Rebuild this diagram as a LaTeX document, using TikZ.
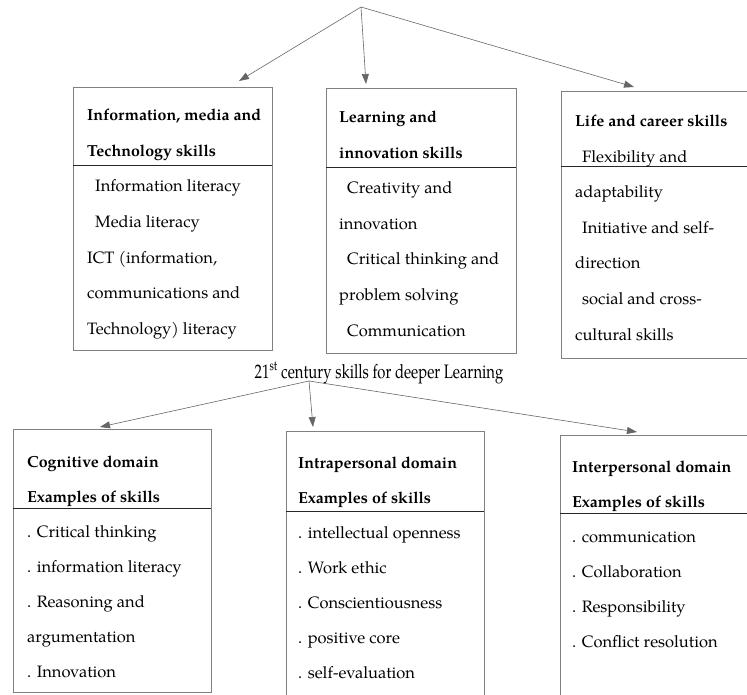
\documentclass[tikz,border=0pt]{standalone}
\usepackage{fontspec}
\setmainfont{TeX Gyre Pagella}
\usetikzlibrary{arrows.meta}
\begin{document}
\begin{tikzpicture}[x=1pt,y=-1pt,
  box/.style={draw=black!50, line width=0.7pt, anchor=north west, inner sep=0pt},
  divider/.style={draw=black!85, line width=0.8pt},
  conn/.style={draw=black!60, line width=0.6pt, -{Triangle[length=10pt,width=7pt]}},
  txt/.style={anchor=base west, inner sep=0pt, font=\fontsize{16.5}{18}\selectfont},
  head/.style={anchor=base west, inner sep=0pt, font=\fontsize{16}{18}\selectfont\bfseries},
]
\useasboundingbox (0,0) rectangle (747,695);

% ---------- top boxes ----------
\node[box, minimum width=199pt, minimum height=263pt] (b1) at (73,87) {};
\node[box, minimum width=190pt, minimum height=265pt] (b2) at (326,88) {};
\node[box, minimum width=200pt, minimum height=267pt] (b3) at (561,91) {};
\draw[divider] (73,165) -- (272,165);
\draw[divider] (326,167) -- (516,167);
\draw[divider] (561,166) -- (747,166);

\node[head] (h11) at (87,121) {Information, media and};
\node[head] (h12) at (87,156.5) {Technology skills};
\node[txt] (i11) at (95,192) {Information literacy};
\node[txt] (i12) at (95,227.5) {Media literacy};
\node[txt] (i13) at (87,263) {ICT (information,};
\node[txt] (i14) at (87,298.5) {communications and};
\node[txt] (i15) at (87,334) {Technology) literacy};

\node[head] (h21) at (339,123) {Learning and};
\node[head] (h22) at (339,158.5) {innovation skills};
\node[txt] (i21) at (347,194) {Creativity and};
\node[txt] (i22) at (339,229.5) {innovation};
\node[txt] (i23) at (347,265) {Critical thinking and};
\node[txt] (i24) at (339,300.5) {problem solving};
\node[txt] (i25) at (347,336) {Communication};

\node[head] (h31) at (575,127) {Life and career skills};
\node[txt] (i31) at (582,162.5) {Flexibility and};
\node[txt] (i32) at (575,198) {adaptability};
\node[txt] (i33) at (582,233.5) {Initiative and self-};
\node[txt] (i34) at (575,269) {direction};
\node[txt] (i35) at (582,304.5) {social and cross-};
\node[txt] (i36) at (575,340) {cultural skills};

% ---------- top arrows ----------
\coordinate (top) at (361,7);
\coordinate (t1) at (239,81);
\coordinate (t2) at (366,84);
\coordinate (t3) at (634,87);
\draw[conn] (top) -- (t1);
\draw[conn] (top) -- (t2);
\draw[conn] (top) -- (t3);

% ---------- title ----------
\node[anchor=base, inner sep=0pt, font=\fontsize{19.5}{22}\selectfont] (title) at (379,378)
  {\scalebox{0.76}[1]{21\textsuperscript{st} century skills for deeper Learning}};

% ---------- bottom arrows ----------
\coordinate (src) at (309,381);
\coordinate (d1) at (100,427);
\coordinate (d2) at (313,427);
\coordinate (d3) at (637,432);
\draw[conn] (src) -- (d1);
\draw[conn] (src) -- (d2);
\draw[conn] (src) -- (d3);

% ---------- bottom boxes ----------
\node[box, minimum width=198pt, minimum height=263pt] (c1) at (13,429) {};
\node[box, minimum width=198pt, minimum height=280pt] (c2) at (286,431) {};
\node[box, minimum width=200pt, minimum height=280pt] (c3) at (560,435) {};
\draw[divider] (13,508) -- (211,508);
\draw[divider] (286,511) -- (484,511);
\draw[divider] (560,513) -- (747,513);

\node[head] (g11) at (27,467) {Cognitive domain};
\node[head] (g12) at (27,502) {Examples of skills};
\node[txt] (j11) at (27,537) {. Critical thinking};
\node[txt] (j12) at (27,572) {. information literacy};
\node[txt] (j13) at (27,607) {. Reasoning and};
\node[txt] (j14) at (27,642) {argumentation};
\node[txt] (j15) at (27,677) {. Innovation};

\node[head] (g21) at (298,468) {Intrapersonal domain};
\node[head] (g22) at (298,503) {Examples of skills};
\node[txt] (j21) at (298,538) {. intellectual openness};
\node[txt] (j22) at (298,573) {. Work ethic};
\node[txt] (j23) at (298,608) {. Conscientiousness};
\node[txt] (j24) at (298,643) {. positive core};
\node[txt] (j25) at (298,678) {. self-evaluation};

\node[head] (g31) at (572,472) {Interpersonal domain};
\node[head] (g32) at (572,507) {Examples of skills};
\node[txt] (j31) at (572,542) {. communication};
\node[txt] (j32) at (572,577) {. Collaboration};
\node[txt] (j33) at (572,612) {. Responsibility};
\node[txt] (j34) at (572,647) {. Conflict resolution};
\end{tikzpicture}
\end{document}
